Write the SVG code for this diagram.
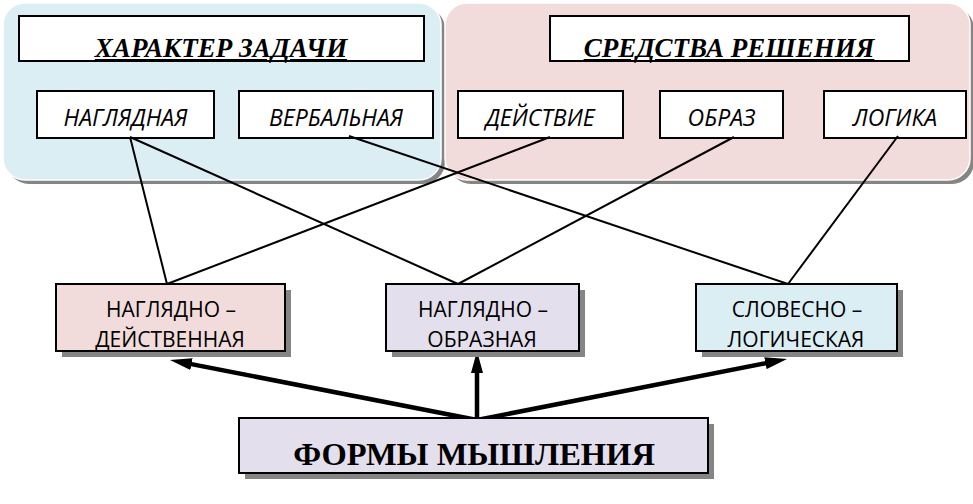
<svg xmlns="http://www.w3.org/2000/svg" width="973" height="504" viewBox="0 0 973 504">
<style>
.shadow{fill:#858585}
.panel{stroke:#ffffff;stroke-width:1.5}
.box{fill:#ffffff;stroke:#000;stroke-width:2}
.fbox{stroke:#000;stroke-width:2}
.title{font-family:"Liberation Serif",serif;font-weight:bold;font-style:italic;font-size:27px;text-decoration:underline;fill:#000}
.lbl{font-family:"Open Sans","Noto Sans",sans-serif;font-style:italic;font-size:23px;fill:#000}
.frm{font-family:"Open Sans","Noto Sans",sans-serif;font-size:21px;fill:#000}
.big{font-family:"Liberation Serif",serif;font-weight:bold;font-size:32.5px;fill:#000}
.thin{stroke:#000;stroke-width:2;fill:none}
.thick{stroke:#000;stroke-width:4.5;fill:none}
</style>
<defs>
<marker id="ah" viewBox="0 0 22 12" refX="8" refY="6" markerWidth="22" markerHeight="12" markerUnits="userSpaceOnUse" orient="auto">
<path d="M0,0 L22,6 L0,12 z" fill="#000"/>
</marker>
</defs>
<rect width="973" height="504" fill="#ffffff"/>

<g id="panel-task">
<rect class="shadow" x="7" y="7" width="438" height="177" rx="22"/>
<rect class="panel" x="3" y="3" width="438" height="177" rx="22" fill="#dbeef3"/>
</g>
<g id="panel-means">
<rect class="shadow" x="449" y="7" width="525" height="177" rx="22"/>
<rect class="panel" x="445" y="3" width="525" height="177" rx="22" fill="#f2dcdb"/>
</g>

<g id="title-task">
<rect class="box" x="19" y="16" width="405" height="45"/>
<text class="title" x="221" y="57" text-anchor="middle">ХАРАКТЕР ЗАДАЧИ</text>
</g>
<g id="title-means">
<rect class="box" x="550" y="16" width="359" height="45"/>
<text class="title" x="729" y="57" text-anchor="middle">СРЕДСТВА РЕШЕНИЯ</text>
</g>

<g id="n-naglyadnaya">
<rect class="box" x="37" y="91" width="177" height="47"/>
<text class="lbl" x="125.5" y="126" text-anchor="middle">НАГЛЯДНАЯ</text>
</g>
<g id="n-verbalnaya">
<rect class="box" x="239" y="91" width="194" height="47"/>
<text class="lbl" x="336" y="126" text-anchor="middle">ВЕРБАЛЬНАЯ</text>
</g>
<g id="n-deystvie">
<rect class="box" x="458" y="91" width="165" height="47"/>
<text class="lbl" x="540" y="126" text-anchor="middle">ДЕЙСТВИЕ</text>
</g>
<g id="n-obraz">
<rect class="box" x="660" y="91" width="123" height="47"/>
<text class="lbl" x="721.5" y="126" text-anchor="middle">ОБРАЗ</text>
</g>
<g id="n-logika">
<rect class="box" x="824" y="91" width="142" height="47"/>
<text class="lbl" x="895" y="126" text-anchor="middle">ЛОГИКА</text>
</g>

<g id="connectors">
<line class="thin" x1="130" y1="137" x2="167" y2="284"/>
<line class="thin" x1="130" y1="137" x2="458" y2="284"/>
<line class="thin" x1="349" y1="136" x2="788" y2="284"/>
<line class="thin" x1="550" y1="137" x2="167" y2="284"/>
<line class="thin" x1="734" y1="137" x2="458" y2="284"/>
<line class="thin" x1="898" y1="136" x2="788" y2="284"/>
<line class="thick" x1="477" y1="420" x2="183.7" y2="362.6" marker-end="url(#ah)"/>
<line class="thick" x1="477" y1="420" x2="477" y2="365" marker-end="url(#ah)"/>
<line class="thick" x1="477" y1="420" x2="773.3" y2="361.7" marker-end="url(#ah)"/>
</g>

<g id="n-nagl-deystv">
<rect class="shadow" x="62" y="290" width="229" height="67"/>
<rect class="fbox" x="56" y="284" width="229" height="67" fill="#f2dcdb"/>
<text class="frm" x="171" y="317" text-anchor="middle">НАГЛЯДНО –</text>
<text class="frm" x="170" y="347" text-anchor="middle">ДЕЙСТВЕННАЯ</text>
</g>
<g id="n-nagl-obraz">
<rect class="shadow" x="392" y="290" width="193" height="67"/>
<rect class="fbox" x="386" y="284" width="193" height="67" fill="#e4dfec"/>
<text class="frm" x="483" y="317" text-anchor="middle">НАГЛЯДНО –</text>
<text class="frm" x="482" y="347" text-anchor="middle">ОБРАЗНАЯ</text>
</g>
<g id="n-slov-log">
<rect class="shadow" x="702" y="290" width="201" height="67"/>
<rect class="fbox" x="696" y="284" width="201" height="67" fill="#dbeef3"/>
<text class="frm" x="797" y="317" text-anchor="middle">СЛОВЕСНО –</text>
<text class="frm" x="796" y="347" text-anchor="middle">ЛОГИЧЕСКАЯ</text>
</g>

<g id="n-formy">
<rect class="shadow" x="245" y="424" width="469" height="55"/>
<rect class="fbox" x="239" y="418" width="469" height="55" fill="#e4dfec"/>
<text class="big" x="474" y="465" text-anchor="middle">ФОРМЫ МЫШЛЕНИЯ</text>
</g>
</svg>
